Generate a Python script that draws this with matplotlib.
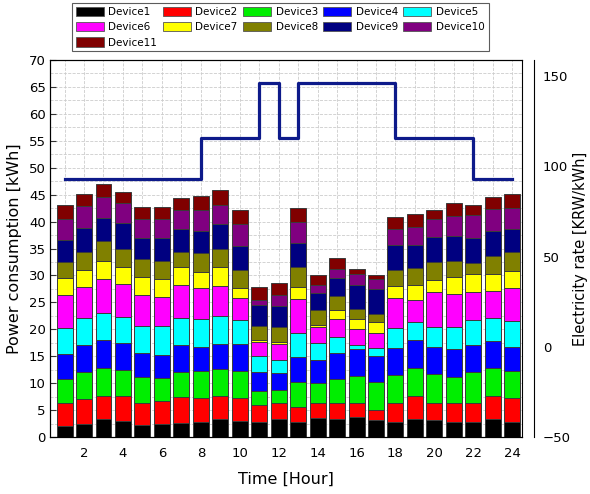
import matplotlib
matplotlib.use("Agg")

import matplotlib.pyplot as plt
import numpy as np
from matplotlib.patches import Patch
from matplotlib.ticker import MultipleLocator

hours = np.arange(1, 25)

device_names = [f"Device{i}" for i in range(1, 12)]
device_colors = [
    "#000000", "#ff0000", "#00ee00", "#0000ff", "#00ffff", "#ff00ff",
    "#ffff00", "#808000", "#000080", "#800080", "#800000",
]

# hourly consumption per device [kWh]
device1 = [2.0, 2.4, 3.3, 3.0, 2.2, 2.4, 2.65, 2.85, 3.4, 2.9, 2.85, 3.3,
           2.8, 3.5, 3.3, 3.8, 3.15, 2.85, 3.3, 3.2, 2.85, 2.85, 3.3, 2.85]
device2 = [4.25, 4.6, 4.4, 4.6, 4.2, 4.3, 4.75, 4.35, 4.3, 4.4, 3.05, 2.95,
           2.8, 2.75, 2.95, 2.45, 1.95, 3.55, 4.4, 3.05, 3.4, 3.55, 4.4, 4.35]
device3 = [4.55, 5.1, 5.2, 4.9, 4.8, 4.25, 4.7, 5.05, 5.0, 4.95, 2.7, 2.55,
           4.6, 3.75, 4.55, 5.15, 5.2, 5.1, 5.2, 5.45, 4.95, 5.65, 5.1, 5.05]
device4 = [4.55, 5.0, 5.05, 4.9, 4.45, 4.35, 5.0, 4.55, 4.6, 5.05, 3.45, 3.0,
           4.6, 4.3, 4.85, 4.9, 4.65, 5.1, 5.1, 5.1, 5.1, 5.05, 5.0, 4.55]
device5 = [4.95, 5.05, 5.15, 4.9, 5.05, 5.4, 5.05, 5.05, 5.1, 4.4, 2.95, 2.5,
           4.6, 3.2, 2.95, 0.8, 1.65, 3.6, 3.35, 3.7, 4.2, 4.6, 4.35, 4.8]
device6 = [6.1, 5.75, 6.2, 6.05, 5.7, 5.35, 6.05, 5.85, 5.6, 4.2, 2.6, 3.0,
           6.2, 3.0, 3.25, 3.0, 2.8, 5.55, 4.05, 6.4, 6.05, 5.2, 5.05, 6.0]
device7 = [3.2, 3.2, 3.4, 3.25, 3.25, 3.25, 3.4, 3.0, 3.5, 1.7, 0.35, 0.4,
           2.3, 0.3, 1.75, 1.9, 1.95, 2.35, 2.9, 2.25, 3.1, 3.3, 3.1, 3.3]
device8 = [2.9, 3.3, 3.7, 3.4, 3.45, 3.3, 2.8, 3.4, 3.4, 3.4, 2.75, 2.7,
           3.6, 2.8, 2.6, 1.8, 1.45, 2.9, 3.0, 3.35, 3.05, 2.05, 3.3, 3.4]
device9 = [4.1, 4.5, 4.3, 4.8, 3.9, 4.3, 4.3, 4.15, 4.6, 4.4, 3.8, 3.9,
           4.5, 3.1, 3.3, 4.4, 4.65, 4.65, 4.35, 4.6, 4.6, 4.75, 4.7, 4.3]
device10 = [3.9, 4.05, 3.9, 3.6, 3.4, 3.6, 3.4, 3.85, 3.6, 4.1, 1.0, 2.1,
            4.0, 1.5, 1.7, 2.0, 1.85, 2.95, 3.4, 3.4, 3.8, 4.2, 4.0, 3.9]
device11 = [2.6, 2.25, 2.3, 2.15, 2.4, 2.2, 2.3, 2.65, 2.8, 2.6, 2.3, 2.25,
            2.5, 1.8, 2.0, 1.05, 0.85, 2.2, 2.35, 1.65, 2.3, 1.9, 2.3, 2.7]

devices = [device1, device2, device3, device4, device5, device6,
           device7, device8, device9, device10, device11]

# time-of-use electricity rate [KRW/kWh]
rate = [93.3, 93.3, 93.3, 93.3, 93.3, 93.3, 93.3, 115.6, 115.6, 115.6, 146.0, 115.6,
        146.0, 146.0, 146.0, 146.0, 146.0, 115.6, 115.6, 115.6, 115.6, 93.3, 93.3, 93.3]

plt.rcParams["font.family"] = ["DejaVu Sans"]

fig = plt.figure(figsize=(5.9, 4.94), dpi=100)
ax = fig.add_axes([0.0847, 0.1154, 0.80, 0.7631])

bottom = np.zeros(len(hours))
for values, color in zip(devices, device_colors):
    ax.bar(hours, values, width=0.82, bottom=bottom, color=color,
           edgecolor="#3a3a3a", linewidth=0.7, zorder=2)
    bottom += np.asarray(values)

ax.set_xlim(0.25, 24.5)
ax.set_ylim(0, 70)
ax.set_xticks(np.arange(2, 25, 2))
ax.xaxis.set_minor_locator(MultipleLocator(1))
ax.yaxis.set_major_locator(MultipleLocator(5))
ax.yaxis.set_minor_locator(MultipleLocator(2.5))
ax.grid(True, which="both", color="#cccccc", linestyle="--", linewidth=0.6, zorder=0)
ax.set_axisbelow(True)
ax.tick_params(axis="both", which="both", direction="in", labelsize=9.5)
ax.tick_params(axis="x", which="both", length=0, pad=7)
ax.tick_params(axis="y", which="minor", length=0)
ax.tick_params(axis="y", which="major", length=4, color="#333333", pad=3)
ax.set_xlabel("Time [Hour]", fontsize=11.5, labelpad=9)
ax.set_ylabel("Power consumption [kWh]", fontsize=11.5, labelpad=5)

ax2 = ax.twinx()
ax2.step(hours, rate, where="post", color="#0d1a8a", linewidth=2.3, zorder=3)
ax2.set_ylim(-50, 159)
ax2.set_yticks([-50, 0, 50, 100, 150])
ax2.spines["right"].set_position(("outward", 9))
ax2.tick_params(axis="y", direction="in", length=0, labelsize=9.5, pad=6)
ax2.set_ylabel("Electricity rate [KRW/kWh]", fontsize=10.5, labelpad=1.5)

# legend filled row by row (5 columns)
order = [0, 5, 10, 1, 6, 2, 7, 3, 8, 4, 9]
handles = [Patch(facecolor=device_colors[i], edgecolor="#555555", linewidth=0.6)
           for i in order]
labels = [device_names[i] for i in order]
leg = fig.legend(handles, labels, loc="upper center", bbox_to_anchor=(0.475, 0.994),
                 ncol=5, fontsize=7.5, frameon=True, fancybox=False,
                 handlelength=2.7, handleheight=1.0, handletextpad=0.45,
                 columnspacing=0.5, labelspacing=0.5, borderpad=0.35,
                 borderaxespad=0.0)
leg.get_frame().set_edgecolor("#333333")
leg.get_frame().set_linewidth(0.8)

fig.savefig("out.png", dpi=100)
